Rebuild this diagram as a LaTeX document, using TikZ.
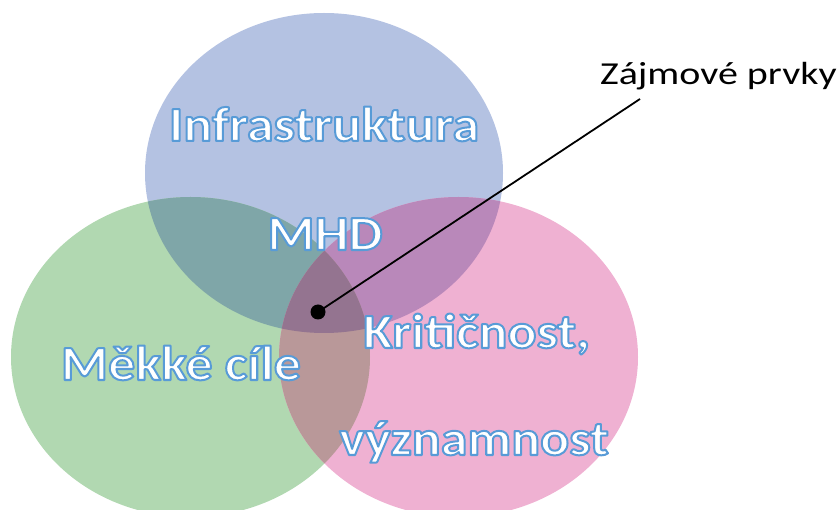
\documentclass[tikz,border=0pt]{standalone}
\usepackage{fontspec}
\setmainfont{Carlito}[FakeStretch=1.1]
\newfontfamily\bigfont{Carlito}[FakeStretch=1.1, UprightFont=*-Bold]
\newfontfamily\labelfont{Carlito}[FakeStretch=1.25]
\newcommand\outlinedtext[1]{\special{pdf:literal direct 0.345 0.608 0.843 RG 2 w 1 j 2 Tr}#1\special{pdf:literal direct 0 Tr}}
\begin{document}
\begin{tikzpicture}[x=1pt,y=-1pt,
  bigtext/.style={inner sep=0pt, text=white, font=\bigfont\fontsize{49}{58}\selectfont},
  smalltext/.style={inner sep=0pt, text=black, font=\labelfont\fontsize{32}{38}\selectfont},
  dotnode/.style={circle, fill=black, minimum size=15pt, inner sep=0pt},
  leader/.style={line width=1.8pt, black}]
\definecolor{cblue}{RGB}{180,194,226}
\definecolor{cgreen}{RGB}{177,216,177}
\definecolor{cpink}{RGB}{239,177,210}
\definecolor{cbg}{RGB}{127,166,168}
\definecolor{cbp}{RGB}{185,136,186}
\definecolor{cgp}{RGB}{185,152,153}
\definecolor{cbgp}{RGB}{148,116,144}
\useasboundingbox (0,0) rectangle (839,510);
\clip (0,0) rectangle (839,510);
\def\blueell{(324,173) ellipse [x radius=179, y radius=160]}
\def\greenell{(190.5,357) ellipse [x radius=179.5, y radius=160]}
\def\pinkell{(458.5,357) ellipse [x radius=179.5, y radius=160]}
\fill[cblue] \blueell;
\fill[cgreen] \greenell;
\fill[cpink] \pinkell;
\begin{scope}\clip \blueell; \fill[cbg] \greenell; \end{scope}
\begin{scope}\clip \blueell; \fill[cbp] \pinkell; \end{scope}
\begin{scope}\clip \greenell; \fill[cgp] \pinkell; \end{scope}
\begin{scope}\clip \blueell; \clip \greenell; \fill[cbgp] \pinkell; \end{scope}
\node[bigtext, anchor=base] (infra) at (324,141) {\outlinedtext{Infrastruktura}};
\node[bigtext, anchor=base] (mhd) at (325,250) {\outlinedtext{MHD}};
\node[bigtext, anchor=base] (mekke) at (181,380) {\outlinedtext{Měkké cíle}};
\node[bigtext, anchor=base west] (krit) at (363,348) {\outlinedtext{Kritičnost,}};
\node[bigtext, anchor=base] (vyzn) at (474,455) {\outlinedtext{významnost}};
\node[smalltext, anchor=base west] (zaj) at (600,85) {Zájmové prvky};
\node[dotnode] (dot) at (318,312) {};
\coordinate (lblpt) at (640,99);
\draw[leader] (dot.center) -- (lblpt);
\end{tikzpicture}
\end{document}
